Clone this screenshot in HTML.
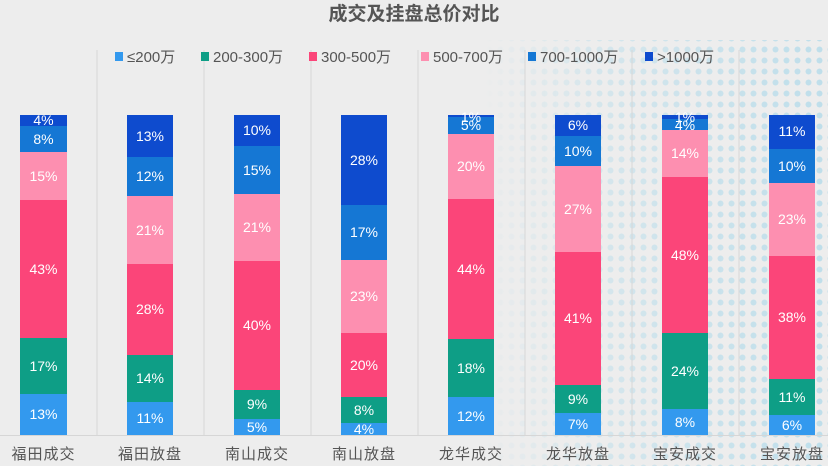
<!DOCTYPE html>
<html><head><meta charset="utf-8"><style>
html,body{margin:0;padding:0;background:#ededed;}
svg{display:block;font-family:"Liberation Sans","Noto Sans CJK SC",sans-serif;}
</style></head><body>
<svg width="828" height="466" viewBox="0 0 828 466" xmlns="http://www.w3.org/2000/svg">
<defs>
<pattern id="dots" width="11" height="11" patternUnits="userSpaceOnUse">
<circle cx="5.5" cy="5.5" r="3" fill="#a9d8ea"/>
</pattern>
<linearGradient id="fade" x1="0" y1="0" x2="1" y2="0">
<stop offset="0" stop-color="#fff" stop-opacity="0"/>
<stop offset="0.35" stop-color="#fff" stop-opacity="0.45"/>
<stop offset="1" stop-color="#fff" stop-opacity="0.85"/>
</linearGradient>
<mask id="m"><rect x="480" y="40" width="348" height="426" fill="url(#fade)"/></mask>
</defs>
<rect width="828" height="466" fill="#ededed"/>
<rect x="480" y="40" width="348" height="426" fill="url(#dots)" mask="url(#m)" opacity="0.8"/>
<text x="414" y="20" text-anchor="middle" font-size="19" font-weight="bold" fill="#555">成交及挂盘总价对比</text>
<g stroke="#d6d6d6" stroke-width="1">
<line x1="97" y1="50" x2="97" y2="435"/><line x1="204" y1="50" x2="204" y2="435"/><line x1="311" y1="50" x2="311" y2="435"/><line x1="418" y1="50" x2="418" y2="435"/><line x1="525" y1="50" x2="525" y2="435"/><line x1="632" y1="50" x2="632" y2="435"/><line x1="739" y1="50" x2="739" y2="435"/>
<line x1="0" y1="435.5" x2="828" y2="435.5"/>
</g>
<g font-size="15" fill="#555">
<rect x="115" y="52" width="8" height="9" fill="#3399ee"/><text x="127" y="62">≤200万</text>
<rect x="201" y="52" width="8" height="9" fill="#0e9e86"/><text x="213" y="62">200-300万</text>
<rect x="309" y="52" width="8" height="9" fill="#fb4579"/><text x="321" y="62">300-500万</text>
<rect x="421" y="52" width="8" height="9" fill="#fd8fb0"/><text x="433" y="62">500-700万</text>
<rect x="528" y="52" width="8" height="9" fill="#1577d4"/><text x="540" y="62">700-1000万</text>
<rect x="645" y="52" width="8" height="9" fill="#0e4bce"/><text x="657" y="62">&gt;1000万</text>
</g>
<g>
<rect x="20" y="394" width="47" height="41" fill="#3399ee"/>
<rect x="20" y="338" width="47" height="56" fill="#0e9e86"/>
<rect x="20" y="200" width="47" height="138" fill="#fb4579"/>
<rect x="20" y="152" width="47" height="48" fill="#fd8fb0"/>
<rect x="20" y="126" width="47" height="26" fill="#1577d4"/>
<rect x="20" y="115" width="47" height="11" fill="#0e4bce"/>
</g>
<g>
<rect x="127" y="402" width="46" height="33" fill="#3399ee"/>
<rect x="127" y="355" width="46" height="47" fill="#0e9e86"/>
<rect x="127" y="264" width="46" height="91" fill="#fb4579"/>
<rect x="127" y="196" width="46" height="68" fill="#fd8fb0"/>
<rect x="127" y="157" width="46" height="39" fill="#1577d4"/>
<rect x="127" y="115" width="46" height="42" fill="#0e4bce"/>
</g>
<g>
<rect x="234" y="419" width="46" height="16" fill="#3399ee"/>
<rect x="234" y="390" width="46" height="29" fill="#0e9e86"/>
<rect x="234" y="261" width="46" height="129" fill="#fb4579"/>
<rect x="234" y="194" width="46" height="67" fill="#fd8fb0"/>
<rect x="234" y="146" width="46" height="48" fill="#1577d4"/>
<rect x="234" y="115" width="46" height="31" fill="#0e4bce"/>
</g>
<g>
<rect x="341" y="423" width="46" height="12" fill="#3399ee"/>
<rect x="341" y="397" width="46" height="26" fill="#0e9e86"/>
<rect x="341" y="333" width="46" height="64" fill="#fb4579"/>
<rect x="341" y="260" width="46" height="73" fill="#fd8fb0"/>
<rect x="341" y="205" width="46" height="55" fill="#1577d4"/>
<rect x="341" y="115" width="46" height="90" fill="#0e4bce"/>
</g>
<g>
<rect x="448" y="397" width="46" height="38" fill="#3399ee"/>
<rect x="448" y="339" width="46" height="58" fill="#0e9e86"/>
<rect x="448" y="199" width="46" height="140" fill="#fb4579"/>
<rect x="448" y="134" width="46" height="65" fill="#fd8fb0"/>
<rect x="448" y="117" width="46" height="17" fill="#1577d4"/>
<rect x="448" y="115" width="46" height="2" fill="#0e4bce"/>
</g>
<g>
<rect x="555" y="413" width="46" height="22" fill="#3399ee"/>
<rect x="555" y="385" width="46" height="28" fill="#0e9e86"/>
<rect x="555" y="252" width="46" height="133" fill="#fb4579"/>
<rect x="555" y="166" width="46" height="86" fill="#fd8fb0"/>
<rect x="555" y="136" width="46" height="30" fill="#1577d4"/>
<rect x="555" y="115" width="46" height="21" fill="#0e4bce"/>
</g>
<g>
<rect x="662" y="409" width="46" height="26" fill="#3399ee"/>
<rect x="662" y="333" width="46" height="76" fill="#0e9e86"/>
<rect x="662" y="177" width="46" height="156" fill="#fb4579"/>
<rect x="662" y="130" width="46" height="47" fill="#fd8fb0"/>
<rect x="662" y="119" width="46" height="11" fill="#1577d4"/>
<rect x="662" y="115" width="46" height="4" fill="#0e4bce"/>
</g>
<g>
<rect x="769" y="415" width="46" height="20" fill="#3399ee"/>
<rect x="769" y="379" width="46" height="36" fill="#0e9e86"/>
<rect x="769" y="256" width="46" height="123" fill="#fb4579"/>
<rect x="769" y="183" width="46" height="73" fill="#fd8fb0"/>
<rect x="769" y="149" width="46" height="34" fill="#1577d4"/>
<rect x="769" y="115" width="46" height="34" fill="#0e4bce"/>
</g>
<g font-size="14" fill="#fff" text-anchor="middle">
<text x="43.5" y="419">13%</text><text x="43.5" y="371">17%</text><text x="43.5" y="274">43%</text><text x="43.5" y="181">15%</text><text x="43.5" y="144">8%</text><text x="43.5" y="125">4%</text>
<text x="150" y="423">11%</text><text x="150" y="383">14%</text><text x="150" y="314">28%</text><text x="150" y="235">21%</text><text x="150" y="181">12%</text><text x="150" y="141">13%</text>
<text x="257" y="432">5%</text><text x="257" y="409">9%</text><text x="257" y="330">40%</text><text x="257" y="232">21%</text><text x="257" y="175">15%</text><text x="257" y="135">10%</text>
<text x="364" y="434">4%</text><text x="364" y="415">8%</text><text x="364" y="370">20%</text><text x="364" y="301">23%</text><text x="364" y="237">17%</text><text x="364" y="165">28%</text>
<text x="471" y="421">12%</text><text x="471" y="373">18%</text><text x="471" y="274">44%</text><text x="471" y="171">20%</text><text x="471" y="130">5%</text><text x="471" y="122">1%</text>
<text x="578" y="429">7%</text><text x="578" y="404">9%</text><text x="578" y="323">41%</text><text x="578" y="214">27%</text><text x="578" y="156">10%</text><text x="578" y="130">6%</text>
<text x="685" y="427">8%</text><text x="685" y="376">24%</text><text x="685" y="260">48%</text><text x="685" y="158">14%</text><text x="685" y="130">4%</text><text x="685" y="122">1%</text>
<text x="792" y="430">6%</text><text x="792" y="402">11%</text><text x="792" y="322">38%</text><text x="792" y="224">23%</text><text x="792" y="171">10%</text><text x="792" y="136">11%</text>
</g>
<g font-size="15" fill="#555" text-anchor="middle" letter-spacing="1">
<text x="43.5" y="459">福田成交</text><text x="150" y="459">福田放盘</text><text x="257" y="459">南山成交</text><text x="364" y="459">南山放盘</text><text x="471" y="459">龙华成交</text><text x="578" y="459">龙华放盘</text><text x="685" y="459">宝安成交</text><text x="792" y="459">宝安放盘</text>
</g>
</svg>
</body></html>
